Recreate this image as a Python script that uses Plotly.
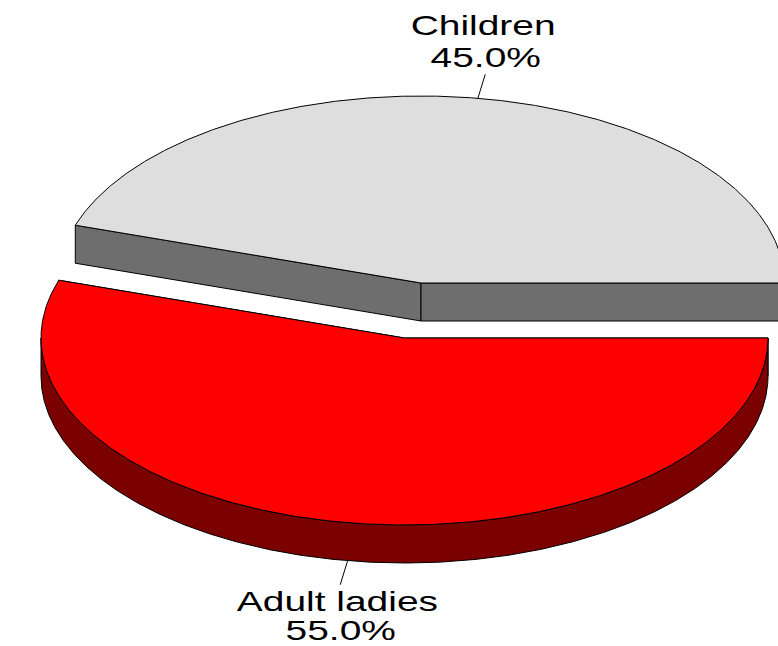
import numpy as np
import plotly.graph_objects as go

# data
categories = ["Adult ladies", "Children"]
shares = [55.0, 45.0]
top_colors = ["#ff0000", "#dedede"]
wall_colors = ["#7b0000", "#6e6e6e"]

# pie geometry (canvas pixels)
centers = [(404.5, 338), (421, 283)]
RX, RY = 363.5, 187
DEPTH = 38
LEADER = 1.13

W, H = 778, 646


def pt(c, deg, dz=0, k=1.0):
    a = np.radians(deg)
    return c[0] + k * RX * np.cos(a), c[1] + k * RY * np.sin(a) + dz


def arc(c, a0, a1, dz=0):
    t = np.linspace(a0, a1, max(int(abs(a1 - a0) * 3), 2))
    x, y = pt(c, t, dz)
    return list(x), list(y)


fig = go.Figure()


def poly(x, y, fill):
    fig.add_trace(go.Scatter(x=x, y=y, mode="lines", fill="toself", fillcolor=fill,
                             line=dict(color="#000000", width=1), hoverinfo="skip",
                             showlegend=False))


total = sum(shares)
spans = []
start = 0.0
for s in shares:
    end = start + s / total * 360
    spans.append((start, end))
    start = end

# draw the back slice first, the exploded front slice after it
for i in [1, 0]:
    c = centers[i]
    a0, a1 = spans[i]
    top, wall = top_colors[i], wall_colors[i]
    # cut faces
    for a in (a0, a1):
        px, py = pt(c, a)
        poly([c[0], px, px, c[0], c[0]],
             [c[1], py, py + DEPTH, c[1] + DEPTH, c[1]], wall)
    # outer rim, visible part only (lower half of the ellipse)
    lo, hi = max(a0, 0), min(a1, 180)
    if hi > lo:
        x1, y1 = arc(c, lo, hi)
        x2, y2 = arc(c, hi, lo, DEPTH)
        poly(x1 + x2 + x1[:1], y1 + y2 + y1[:1], wall)
    # top face
    x, y = arc(c, a0, a1)
    poly([c[0]] + x + [c[0]], [c[1]] + y + [c[1]], top)
    # leader line
    mid = (a0 + a1) / 2
    dz = DEPTH if 0 < mid < 180 else 0
    x0, y0 = pt(c, mid, dz)
    ex = c[0] + LEADER * (x0 - c[0])
    ey = c[1] + dz + LEADER * (y0 - c[1] - dz)
    fig.add_trace(go.Scatter(x=[x0, ex], y=[y0, ey], mode="lines",
                             line=dict(color="#000000", width=1), hoverinfo="skip",
                             showlegend=False))

label_pos = {"Adult ladies": (337.5, 601), "Children": (482.5, 25)}
pct_pos = {"Adult ladies": (340, 630), "Children": (485.5, 57)}
font = dict(family="Liberation Sans", size=28, color="#000000")
for name, s in zip(categories, shares):
    for text, (x, y) in ((name, label_pos[name]), (f"{s:.1f}%", pct_pos[name])):
        fig.add_annotation(x=x, y=y, text=text, showarrow=False, font=font,
                           xanchor="center", yanchor="middle")

fig.update_xaxes(range=[0, W], visible=False, fixedrange=True)
fig.update_yaxes(range=[H, 0], visible=False, fixedrange=True)
fig.update_layout(width=W, height=H, margin=dict(l=0, r=0, t=0, b=0),
                  paper_bgcolor="#ffffff", plot_bgcolor="#ffffff", showlegend=False)

stretch = """
document.body.style.margin = '0';
document.querySelectorAll('.annotation-text').forEach(function (t) {
  var n = t.getComputedTextLength();
  t.setAttribute('textLength', n * 1.39);
  t.setAttribute('lengthAdjust', 'spacingAndGlyphs');
});
"""
fig.write_html("out.html", post_script=stretch, config=dict(displayModeBar=False))
